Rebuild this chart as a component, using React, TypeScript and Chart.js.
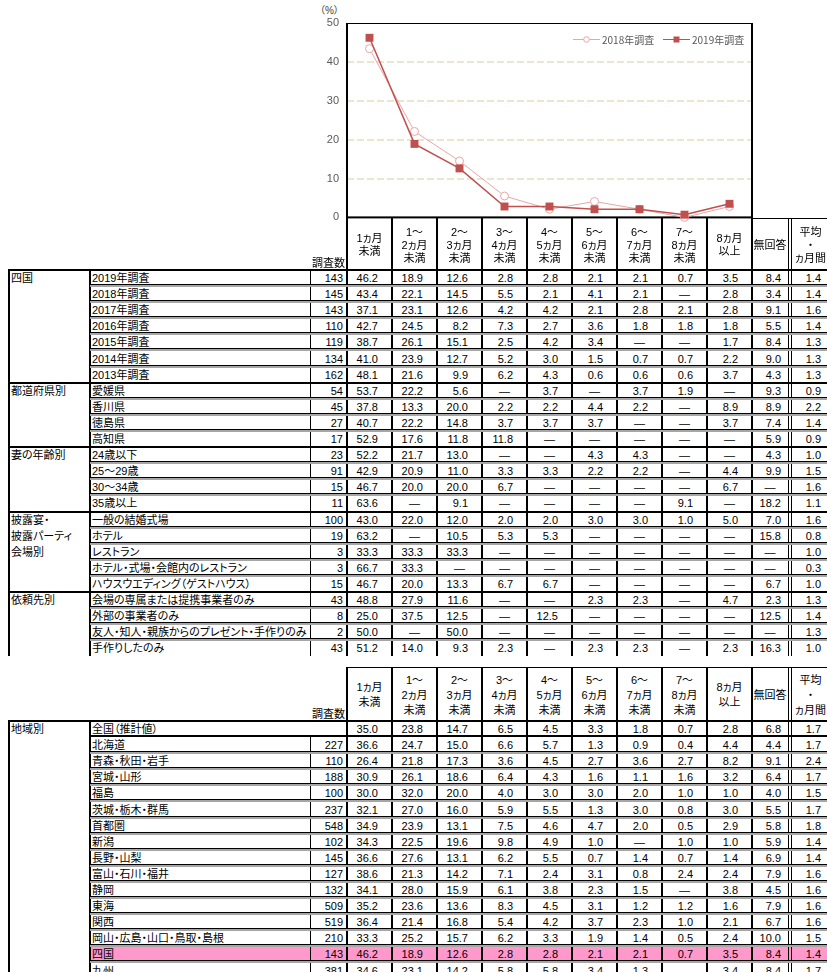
import React, { useEffect, useRef } from "react";
import { Chart, registerables } from "chart.js";

Chart.register(...registerables);

// ---------------- chart data ----------------
const chartCategories = ["1ヵ月未満", "1～2ヵ月未満", "2～3ヵ月未満", "3～4ヵ月未満", "4～5ヵ月未満", "5～6ヵ月未満", "6～7ヵ月未満", "7～8ヵ月未満", "8ヵ月以上"];
const survey2018 = [43.4, 22.1, 14.5, 5.5, 2.1, 4.1, 2.1, 0, 2.8];
const survey2019 = [46.2, 18.9, 12.6, 2.8, 2.8, 2.1, 2.1, 0.7, 3.5];
const seriesLabels = ["2018年調査", "2019年調査"];
const yTicks = [0, 10, 20, 30, 40, 50];

// ---------------- table data ----------------
const columnHeaders = [
  ["1ヵ月", "未満"],
  ["1～", "2ヵ月", "未満"],
  ["2～", "3ヵ月", "未満"],
  ["3～", "4ヵ月", "未満"],
  ["4～", "5ヵ月", "未満"],
  ["5～", "6ヵ月", "未満"],
  ["6～", "7ヵ月", "未満"],
  ["7～", "8ヵ月", "未満"],
  ["8ヵ月", "以上"],
  ["無回答"],
  ["平均", "・", "ヵ月間"],
];
const D = null; // "—"

const shikokuTitle = ["四国"];
const shikokuLabels = ["2019年調査", "2018年調査", "2017年調査", "2016年調査", "2015年調査", "2014年調査", "2013年調査"];
const shikokuN = [143, 145, 143, 110, 119, 134, 162];
const shikokuValues = [
  [46.2, 18.9, 12.6, 2.8, 2.8, 2.1, 2.1, 0.7, 3.5, 8.4, 1.4],
  [43.4, 22.1, 14.5, 5.5, 2.1, 4.1, 2.1, D, 2.8, 3.4, 1.4],
  [37.1, 23.1, 12.6, 4.2, 4.2, 2.1, 2.8, 2.1, 2.8, 9.1, 1.6],
  [42.7, 24.5, 8.2, 7.3, 2.7, 3.6, 1.8, 1.8, 1.8, 5.5, 1.4],
  [38.7, 26.1, 15.1, 2.5, 4.2, 3.4, D, D, 1.7, 8.4, 1.3],
  [41.0, 23.9, 12.7, 5.2, 3.0, 1.5, 0.7, 0.7, 2.2, 9.0, 1.3],
  [48.1, 21.6, 9.9, 6.2, 4.3, 0.6, 0.6, 0.6, 3.7, 4.3, 1.3],
];

const prefTitle = ["都道府県別"];
const prefLabels = ["愛媛県", "香川県", "徳島県", "高知県"];
const prefN = [54, 45, 27, 17];
const prefValues = [
  [53.7, 22.2, 5.6, D, 3.7, D, 3.7, 1.9, D, 9.3, 0.9],
  [37.8, 13.3, 20.0, 2.2, 2.2, 4.4, 2.2, D, 8.9, 8.9, 2.2],
  [40.7, 22.2, 14.8, 3.7, 3.7, 3.7, D, D, 3.7, 7.4, 1.4],
  [52.9, 17.6, 11.8, 11.8, D, D, D, D, D, 5.9, 0.9],
];

const ageTitle = ["妻の年齢別"];
const ageLabels = ["24歳以下", "25～29歳", "30～34歳", "35歳以上"];
const ageN = [23, 91, 15, 11];
const ageValues = [
  [52.2, 21.7, 13.0, D, D, 4.3, 4.3, D, D, 4.3, 1.0],
  [42.9, 20.9, 11.0, 3.3, 3.3, 2.2, 2.2, D, 4.4, 9.9, 1.5],
  [46.7, 20.0, 20.0, 6.7, D, D, D, D, 6.7, D, 1.6],
  [63.6, D, 9.1, D, D, D, D, 9.1, D, 18.2, 1.1],
];

const venueTitle = ["披露宴・", "披露パーティ", "会場別"];
const venueLabels = ["一般の結婚式場", "ホテル", "レストラン", "ホテル・式場・会館内のレストラン", "ハウスウエディング（ゲストハウス）"];
const venueN = [100, 19, 3, 3, 15];
const venueValues = [
  [43.0, 22.0, 12.0, 2.0, 2.0, 3.0, 3.0, 1.0, 5.0, 7.0, 1.6],
  [63.2, D, 10.5, 5.3, 5.3, D, D, D, D, 15.8, 0.8],
  [33.3, 33.3, 33.3, D, D, D, D, D, D, D, 1.0],
  [66.7, 33.3, D, D, D, D, D, D, D, D, 0.3],
  [46.7, 20.0, 13.3, 6.7, 6.7, D, D, D, D, 6.7, 1.0],
];

const orderTitle = ["依頼先別"];
const orderLabels = ["会場の専属または提携事業者のみ", "外部の事業者のみ", "友人・知人・親族からのプレゼント・手作りのみ", "手作りしたのみ"];
const orderN = [43, 8, 2, 43];
const orderValues = [
  [48.8, 27.9, 11.6, D, D, 2.3, 2.3, D, 4.7, 2.3, 1.3],
  [25.0, 37.5, 12.5, D, 12.5, D, D, D, D, 12.5, 1.4],
  [50.0, D, 50.0, D, D, D, D, D, D, D, 1.3],
  [51.2, 14.0, 9.3, 2.3, D, 2.3, 2.3, D, 2.3, 16.3, 1.0],
];

const regionTitle = ["地域別"];
const regionLabels = ["全国（推計値）", "北海道", "青森・秋田・岩手", "宮城・山形", "福島", "茨城・栃木・群馬", "首都圏", "新潟", "長野・山梨", "富山・石川・福井", "静岡", "東海", "関西", "岡山・広島・山口・鳥取・島根", "四国", "九州"];
const regionN = [D, 227, 110, 188, 100, 237, 548, 102, 145, 127, 132, 509, 519, 210, 143, 381];
const regionValues = [
  [35.0, 23.8, 14.7, 6.5, 4.5, 3.3, 1.8, 0.7, 2.8, 6.8, 1.7],
  [36.6, 24.7, 15.0, 6.6, 5.7, 1.3, 0.9, 0.4, 4.4, 4.4, 1.7],
  [26.4, 21.8, 17.3, 3.6, 4.5, 2.7, 3.6, 2.7, 8.2, 9.1, 2.4],
  [30.9, 26.1, 18.6, 6.4, 4.3, 1.6, 1.1, 1.6, 3.2, 6.4, 1.7],
  [30.0, 32.0, 20.0, 4.0, 3.0, 3.0, 2.0, 1.0, 1.0, 4.0, 1.5],
  [32.1, 27.0, 16.0, 5.9, 5.5, 1.3, 3.0, 0.8, 3.0, 5.5, 1.7],
  [34.9, 23.9, 13.1, 7.5, 4.6, 4.7, 2.0, 0.5, 2.9, 5.8, 1.8],
  [34.3, 22.5, 19.6, 9.8, 4.9, 1.0, D, 1.0, 1.0, 5.9, 1.4],
  [36.6, 27.6, 13.1, 6.2, 5.5, 0.7, 1.4, 0.7, 1.4, 6.9, 1.4],
  [38.6, 21.3, 14.2, 7.1, 2.4, 3.1, 0.8, 2.4, 2.4, 7.9, 1.6],
  [34.1, 28.0, 15.9, 6.1, 3.8, 2.3, 1.5, D, 3.8, 4.5, 1.6],
  [35.2, 23.6, 13.6, 8.3, 4.5, 3.1, 1.2, 1.2, 1.6, 7.9, 1.6],
  [36.4, 21.4, 16.8, 5.4, 4.2, 3.7, 2.3, 1.0, 2.1, 6.7, 1.6],
  [33.3, 25.2, 15.7, 6.2, 3.3, 1.9, 1.4, 0.5, 2.4, 10.0, 1.5],
  [46.2, 18.9, 12.6, 2.8, 2.8, 2.1, 2.1, 0.7, 3.5, 8.4, 1.4],
  [34.6, 23.1, 14.2, 5.8, 5.8, 3.4, 1.3, D, 3.4, 8.4, 1.7],
];
const highlightLabel = "四国";

// ---------------- layout ----------------
const FONT = '"Liberation Sans", "Noto Sans CJK JP", sans-serif';
const RED = "#c0504d";
const PINK = "#e8a6a6";
const ROW_H = 16.1;
const X_LEFT = 8;
const X_A = 90;
const X_B = 310;
const COL_EDGES = [347, 392, 437, 482, 527, 572, 617, 662, 707, 752, 788];
const AVG_L = 791;
const AVG_R = 830;
const RIGHT = 830;
const PAD_R = [14, 14, 14, 14, 14, 14, 14, 14, 14, 7, 9];

type Group = { title: string[]; labels: string[]; ns: (number | null)[]; values: (number | null)[][] };

function colBounds(i: number): [number, number] {
  return i < 10 ? [COL_EDGES[i], COL_EDGES[i + 1]] : [AVG_L, AVG_R];
}

function buildTable(
  prefix: string,
  headerTop: number,
  headerBottom: number,
  headerLH: number,
  groups: Group[],
  firstRowIsTotal: boolean,
  headerTopFrom: number
) {
  const els: any[] = [];
  const lines: any[] = [];
  let k = 0;
  const rect = (x: number, y: number, w: number, h: number, c: string, arr: any[]) =>
    arr.push(<div key={prefix + "r" + k++} style={{ position: "absolute", left: x, top: y, width: w, height: h, background: c }} />);
  const txt = (x: number, y: number, w: number, s: string, align: any) =>
    els.push(
      <div
        key={prefix + "t" + k++}
        style={{ position: "absolute", left: x, top: y, width: w, height: 13, lineHeight: "13px", textAlign: align, whiteSpace: "nowrap" }}
      >
        {s}
      </div>
    );

  const nRows = groups.reduce((a, g) => a + g.labels.length, 0);
  const rowTop0 = headerBottom;
  const tableEnd = Math.round(rowTop0 + nRows * ROW_H);

  // header
  columnHeaders.forEach((hl, j) => {
    const [l, r] = colBounds(j);
    els.push(
      <div
        key={prefix + "h" + j}
        style={{
          position: "absolute",
          left: l,
          top: headerTop + 1,
          width: r - l,
          height: headerBottom - headerTop,
          display: "flex",
          flexDirection: "column",
          justifyContent: "center",
          alignItems: "center",
          lineHeight: headerLH + "px",
        }}
      >
        {hl.map((s, m) => (
          <div key={m} style={{ whiteSpace: "nowrap", height: headerLH }}>{s}</div>
        ))}
      </div>
    );
  });
  txt(X_B, headerBottom - 13, 35, "調査数", "right");
  rect(headerTopFrom, headerTop, RIGHT - headerTopFrom, 1, "#000", lines);

  // vertical lines
  for (let j = 0; j < 10; j++) rect(COL_EDGES[j] - 1, headerTop, 2, tableEnd - headerTop, "#000", lines);
  rect(788, headerTop, 1, tableEnd - headerTop, "#000", lines);
  rect(791, headerTop, 1, tableEnd - headerTop, "#000", lines);
  rect(X_LEFT, headerBottom, 2, tableEnd - headerBottom, "#000", lines);
  rect(X_A - 1, headerBottom, 2, tableEnd - headerBottom, "#000", lines);
  const bStart = firstRowIsTotal ? Math.round(rowTop0 + ROW_H) : headerBottom;
  rect(X_B, bStart, 1, tableEnd - bStart, "#000", lines);
  // thick header bottom line
  rect(X_LEFT, headerBottom - 1, RIGHT - X_LEFT, 2, "#000", lines);

  let i = 0;
  groups.forEach((g, gi) => {
    const gTop = rowTop0 + i * ROW_H;
    g.title.forEach((t, m) => txt(11, Math.round(gTop + m * ROW_H + 2), 78, t, "left"));
    g.labels.forEach((lab, ri) => {
      const top = rowTop0 + i * ROW_H;
      const rt = Math.round(top);
      const lastInGroup = ri === g.labels.length - 1;
      const lastOverall = lastInGroup && gi === groups.length - 1;
      if (lab === highlightLabel && firstRowIsTotal) rect(X_A + 1, rt + 1, RIGHT - X_A - 1, 13, "#ff99cc", els);
      txt(92, rt + 2, 250, lab, "left");
      const n = g.ns[ri];
      if (n != null) txt(X_B, rt + 2, 33, String(n), "right");
      g.values[ri].forEach((v, j) => {
        const [l, r] = colBounds(j);
        if (v == null) txt(l, rt + 2, r - l, "—", "center");
        else txt(l, rt + 2, r - l - PAD_R[j], v.toFixed(1), "right");
      });
      if (firstRowIsTotal && i === 0) {
        rect(X_A, rt + 14, RIGHT - X_A, 2, "#000", lines);
      } else if (lastInGroup && !lastOverall) {
        rect(X_LEFT, Math.round(top + ROW_H) - 1, RIGHT - X_LEFT, 2, "#000", lines);
      } else if (!lastOverall) {
        rect(X_A, rt + 14, RIGHT - X_A, 1, "#000", lines);
        rect(X_A, rt + 15, RIGHT - X_A, 2, "#a6a6a6", lines);
      }
      i++;
    });
  });
  return [...els, ...lines];
}

const CANVAS_LEFT = 296;

const framePlugin = {
  id: "frameAndLegend",
  beforeDatasetsDraw(chart: any) {
    const { ctx, chartArea } = chart;
    const { left, right, top, bottom } = chartArea;
    ctx.save();
    ctx.fillStyle = "#000";
    ctx.fillRect(left, top, right - left, 1);
    ctx.fillRect(left - 1, bottom - 1, right - left + 2, 2);
    ctx.fillRect(left - 1, top, 2, bottom - top);
    ctx.fillRect(right - 1, top, 2, bottom - top);
    ctx.restore();
  },
  afterDraw(chart: any) {
    const { ctx, chartArea } = chart;
    const r = chartArea.right;
    const y = 39.5;
    const entries = [
      { x0: r - 179, ds: chart.data.datasets[1] },
      { x0: r - 89, ds: chart.data.datasets[0] },
    ];
    ctx.save();
    entries.forEach(({ x0, ds }) => {
      ctx.strokeStyle = ds.borderColor;
      ctx.lineWidth = 1;
      ctx.beginPath();
      ctx.moveTo(x0, y);
      ctx.lineTo(x0 + 27, y);
      ctx.stroke();
      const mx = x0 + 13.5;
      if (ds.pointStyle === "rect") {
        ctx.fillStyle = ds.pointBackgroundColor;
        ctx.fillRect(mx - 3, y - 3, 6, 6);
      } else {
        ctx.fillStyle = "#fff";
        ctx.beginPath();
        ctx.arc(mx, y, 2.8, 0, Math.PI * 2);
        ctx.fill();
        ctx.stroke();
      }
      ctx.fillStyle = "#595959";
      ctx.font = '10px "Noto Sans CJK JP", sans-serif';
      ctx.textBaseline = "middle";
      ctx.textAlign = "left";
      ctx.fillText(ds.label, x0 + 29, y + 0.5);
    });
    ctx.restore();
  },
};

function LineChart() {
  const ref = useRef<HTMLCanvasElement | null>(null);
  useEffect(() => {
    if (!ref.current) return;
    const chart = new Chart(ref.current, {
      type: "line",
      data: {
        labels: chartCategories,
        datasets: [
          {
            label: seriesLabels[1],
            data: survey2019,
            borderColor: RED,
            backgroundColor: RED,
            borderWidth: 1.5,
            pointStyle: "rect",
            pointRadius: 5.6,
            pointBackgroundColor: RED,
            pointBorderColor: RED,
            pointBorderWidth: 0,
            clip: false,
            order: 0,
          } as any,
          {
            label: seriesLabels[0],
            data: survey2018,
            borderColor: PINK,
            backgroundColor: "#fff",
            borderWidth: 1,
            pointStyle: "circle",
            pointRadius: 4,
            pointBackgroundColor: "#fff",
            pointBorderColor: PINK,
            pointBorderWidth: 1,
            clip: false,
            order: 1,
          } as any,
        ],
      },
      options: {
        responsive: false,
        animation: false,
        layout: { padding: { left: 0, right: 14, top: 23, bottom: 14 } },
        plugins: { legend: { display: false }, tooltip: { enabled: false } },
        scales: {
          x: { display: false, offset: true },
          y: {
            min: 0,
            max: 50,
            afterBuildTicks: (s: any) => {
              s.ticks = yTicks.map((v) => ({ value: v }));
            },
            afterFit: (s: any) => {
              s.width = 51;
            },
            ticks: { padding: 8, color: "#595959", font: { size: 11, family: '"Liberation Sans", Arial, sans-serif' } },
            grid: {
              drawTicks: false,
              lineWidth: 2,
              color: (c: any) => (c.tick && (c.tick.value === 0 || c.tick.value === 50) ? "rgba(0,0,0,0)" : "#ebe6d0"),
            },
            border: { display: false, dash: [7, 3] },
          },
        },
      } as any,
      plugins: [framePlugin],
    });
    return () => chart.destroy();
  }, []);
  return <canvas ref={ref} width={470} height={232} style={{ position: "absolute", left: CANVAS_LEFT, top: 0 }} />;
}

export default function App() {
  const table1 = buildTable(
    "a",
    218,
    270,
    13,
    [
      { title: shikokuTitle, labels: shikokuLabels, ns: shikokuN, values: shikokuValues },
      { title: prefTitle, labels: prefLabels, ns: prefN, values: prefValues },
      { title: ageTitle, labels: ageLabels, ns: ageN, values: ageValues },
      { title: venueTitle, labels: venueLabels, ns: venueN, values: venueValues },
      { title: orderTitle, labels: orderLabels, ns: orderN, values: orderValues },
    ],
    false,
    752
  );
  const table2 = buildTable(
    "b",
    667,
    721,
    15,
    [{ title: regionTitle, labels: regionLabels, ns: regionN, values: regionValues }],
    true,
    347
  );
  return (
    <div
      style={{
        position: "fixed",
        left: 0,
        top: 0,
        width: 827,
        height: 972,
        overflow: "hidden",
        background: "#fff",
        fontFamily: FONT,
        fontSize: 11,
        color: "#000",
        fontFeatureSettings: '"palt"',
      }}
    >
      <div style={{ position: "absolute", left: 320, top: 5, fontSize: 10, lineHeight: "12px", color: "#404040" }}>（%）</div>
      <LineChart />
      {table1}
      {table2}
    </div>
  );
}
